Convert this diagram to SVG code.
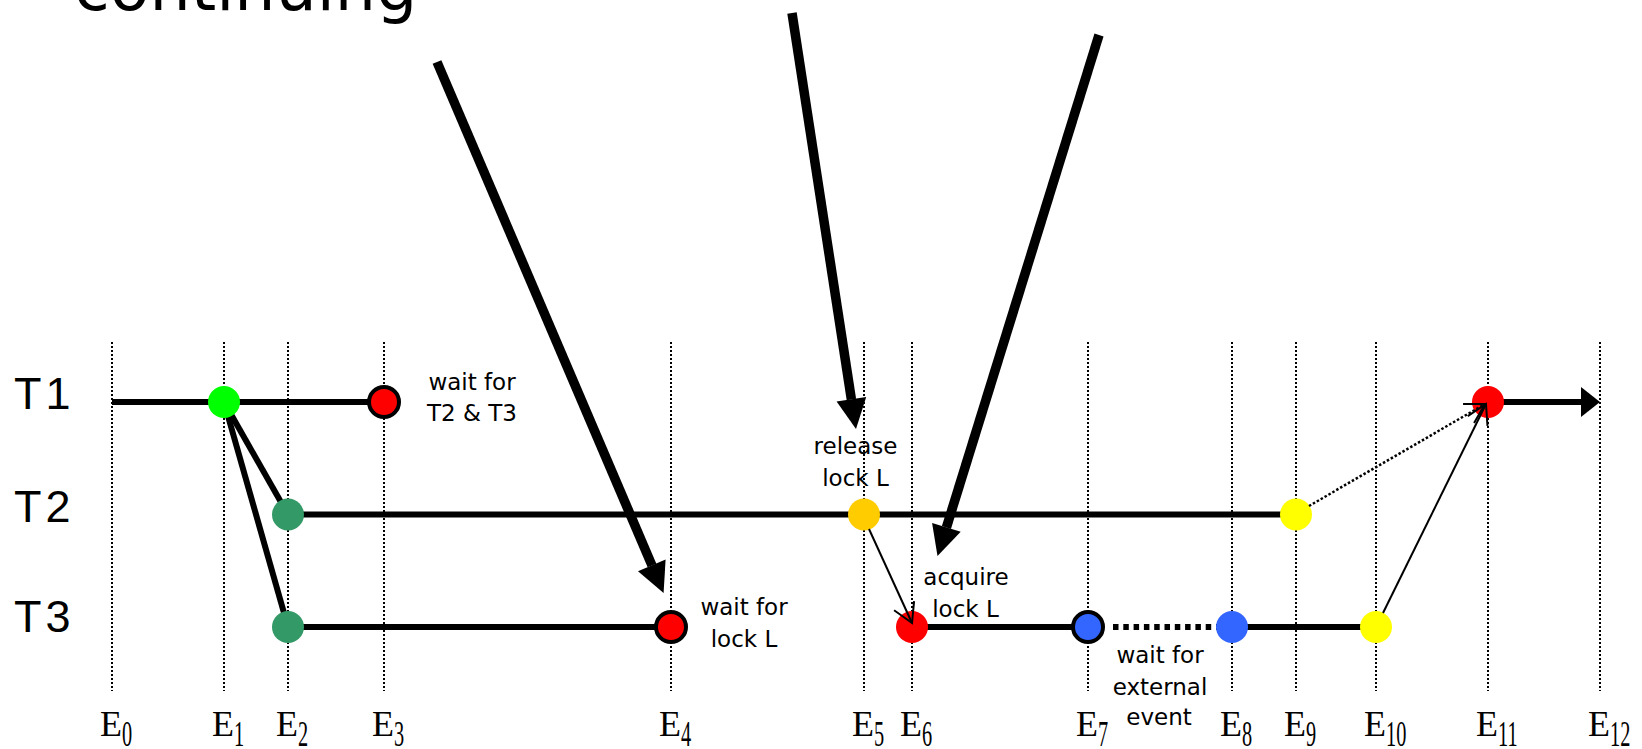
<svg xmlns="http://www.w3.org/2000/svg" width="1642" height="749" viewBox="0 0 1642 749">
<style>
.vl{stroke:#000;stroke-width:2;stroke-dasharray:2 2;fill:none}
.tl{stroke:#000;stroke-width:6;fill:none}
.big{stroke:#000;stroke-width:9.5;fill:none}
.thin{stroke:#000;stroke-width:2;fill:none}
.lab{font-family:"DejaVu Sans",Verdana,sans-serif;font-size:23px;fill:#000;text-anchor:middle}
.tn{font-family:"Liberation Sans",Arial,sans-serif;font-size:45px;letter-spacing:4px;fill:#000}
.e{font-family:"Liberation Serif","Times New Roman",serif;font-size:36px;fill:#000}
.s{font-family:"Liberation Serif","Times New Roman",serif;font-size:35px;fill:#000}
.ring{stroke:#000;stroke-width:4}
</style>
<defs>
<marker id="open" markerUnits="userSpaceOnUse" viewBox="-24 -14 28 28" markerWidth="28" markerHeight="28" refX="0" refY="0" orient="auto" overflow="visible">
<path d="M-19,-11 L0,0 L-19,11" fill="none" stroke="#000" stroke-width="2"/>
</marker>
</defs>
<rect width="1642" height="749" fill="#fff"/>
<text x="74" y="10" font-family="DejaVu Sans,Verdana,sans-serif" font-size="65" fill="#000">continuing</text>

<g id="gridlines">
<line class="vl" x1="112" y1="342" x2="112" y2="691"/>
<line class="vl" x1="224" y1="342" x2="224" y2="691"/>
<line class="vl" x1="288" y1="342" x2="288" y2="691"/>
<line class="vl" x1="384" y1="342" x2="384" y2="691"/>
<line class="vl" x1="671" y1="342" x2="671" y2="691"/>
<line class="vl" x1="864" y1="342" x2="864" y2="691"/>
<line class="vl" x1="912" y1="342" x2="912" y2="691"/>
<line class="vl" x1="1088" y1="342" x2="1088" y2="691"/>
<line class="vl" x1="1232" y1="342" x2="1232" y2="691"/>
<line class="vl" x1="1296" y1="342" x2="1296" y2="691"/>
<line class="vl" x1="1376" y1="342" x2="1376" y2="691"/>
<line class="vl" x1="1488" y1="342" x2="1488" y2="691"/>
<line class="vl" x1="1600" y1="342" x2="1600" y2="691"/>
</g>

<g id="thread-labels">
<text class="tn" x="14" y="409">T1</text>
<text class="tn" x="14" y="522">T2</text>
<text class="tn" x="14" y="632">T3</text>
</g>

<g id="event-labels">
<text class="e" x="100" y="736">E</text><text class="s" transform="translate(122,746) scale(0.58,1)">0</text>
<text class="e" x="212" y="736">E</text><text class="s" transform="translate(234,746) scale(0.58,1)">1</text>
<text class="e" x="276" y="736">E</text><text class="s" transform="translate(298,746) scale(0.58,1)">2</text>
<text class="e" x="372" y="736">E</text><text class="s" transform="translate(394,746) scale(0.58,1)">3</text>
<text class="e" x="659" y="736">E</text><text class="s" transform="translate(681,746) scale(0.58,1)">4</text>
<text class="e" x="852" y="736">E</text><text class="s" transform="translate(874,746) scale(0.58,1)">5</text>
<text class="e" x="900" y="736">E</text><text class="s" transform="translate(922,746) scale(0.58,1)">6</text>
<text class="e" x="1076" y="736">E</text><text class="s" transform="translate(1098,746) scale(0.58,1)">7</text>
<text class="e" x="1220" y="736">E</text><text class="s" transform="translate(1242,746) scale(0.58,1)">8</text>
<text class="e" x="1284" y="736">E</text><text class="s" transform="translate(1306,746) scale(0.58,1)">9</text>
<text class="e" x="1364" y="736">E</text><text class="s" transform="translate(1386,746) scale(0.58,1)">10</text>
<text class="e" x="1476" y="736">E</text><text class="s" transform="translate(1498,746) scale(0.58,1)">11</text>
<text class="e" x="1588" y="736">E</text><text class="s" transform="translate(1610,746) scale(0.58,1)">12</text>
</g>

<g id="timelines">
<line class="tl" x1="112" y1="402" x2="384" y2="402"/>
<line class="tl" x1="1488" y1="402" x2="1584" y2="402"/>
<polygon points="1600,402 1581,387 1581,417" fill="#000"/>
<line class="tl" x1="288" y1="514.5" x2="1296" y2="514.5"/>
<line class="tl" x1="288" y1="627" x2="671" y2="627"/>
<line class="tl" x1="912" y1="627" x2="1088" y2="627"/>
<line x1="1113" y1="627" x2="1218" y2="627" stroke="#000" stroke-width="6" stroke-dasharray="5.5 4.8"/>
<line class="tl" x1="1232" y1="627" x2="1376" y2="627"/>
<line class="tl" x1="224" y1="402" x2="288" y2="514.5"/>
<line class="tl" x1="224" y1="402" x2="288" y2="627"/>
</g>

<g id="n-e1"><circle cx="224" cy="402" r="16" fill="#00FF00"/></g>
<g id="n-e2-t2"><circle cx="288" cy="514.5" r="16" fill="#339966"/></g>
<g id="n-e2-t3"><circle cx="288" cy="627" r="16" fill="#339966"/></g>
<g id="n-e3"><circle class="ring" cx="384" cy="402" r="15" fill="#FF0000"/>
<text class="lab" x="472" y="390">wait for</text><text class="lab" x="472" y="421">T2 &amp; T3</text></g>
<g id="n-e4"><circle class="ring" cx="671" cy="627" r="15" fill="#FF0000"/>
<text class="lab" x="744" y="615">wait for</text><text class="lab" x="744" y="646.5">lock L</text></g>
<g id="n-e5"><text class="lab" x="855.5" y="454">release</text><text class="lab" x="855.5" y="486">lock L</text>
<circle cx="864" cy="514.5" r="16" fill="#FFCC00"/></g>
<g id="n-e6"><circle cx="912" cy="627" r="16" fill="#FF0000"/>
<text class="lab" x="966" y="584.5">acquire</text><text class="lab" x="965.5" y="616.5">lock L</text></g>
<g id="n-e7"><circle class="ring" cx="1088" cy="627" r="15" fill="#3366FF"/>
<text class="lab" x="1160" y="663">wait for</text><text class="lab" x="1160" y="695">external</text><text class="lab" x="1159" y="725">event</text></g>
<g id="n-e8"><circle cx="1232" cy="627" r="16" fill="#3366FF"/></g>
<g id="n-e9"><circle cx="1296" cy="514.5" r="16" fill="#FFFF00"/></g>
<g id="n-e10"><circle cx="1376" cy="627" r="16" fill="#FFFF00"/></g>
<g id="n-e11"><circle cx="1488" cy="402" r="16" fill="#FF0000"/></g>

<g id="connectors">
<line class="thin" x1="869" y1="529" x2="912" y2="623" marker-end="url(#open)"/>
<line x1="1309" y1="506" x2="1485" y2="404" stroke="#000" stroke-width="2.5" stroke-dasharray="2.5 2" marker-end="url(#open)"/>
<line class="thin" x1="1383" y1="613" x2="1486" y2="404" marker-end="url(#open)"/>
</g>

<g id="pointers">
<line class="big" x1="437" y1="62" x2="652" y2="565.5"/>
<polygon points="663.6,593 638,571.3 665.6,559.5" fill="#000"/>
<line class="big" x1="792" y1="13" x2="851.4" y2="399.5"/>
<polygon points="856,429 836.6,401.6 866.2,397" fill="#000"/>
<line class="big" x1="1099" y1="35" x2="946.4" y2="527.5"/>
<polygon points="937.5,556 932.1,522.9 960.7,531.7" fill="#000"/>
</g>
</svg>
